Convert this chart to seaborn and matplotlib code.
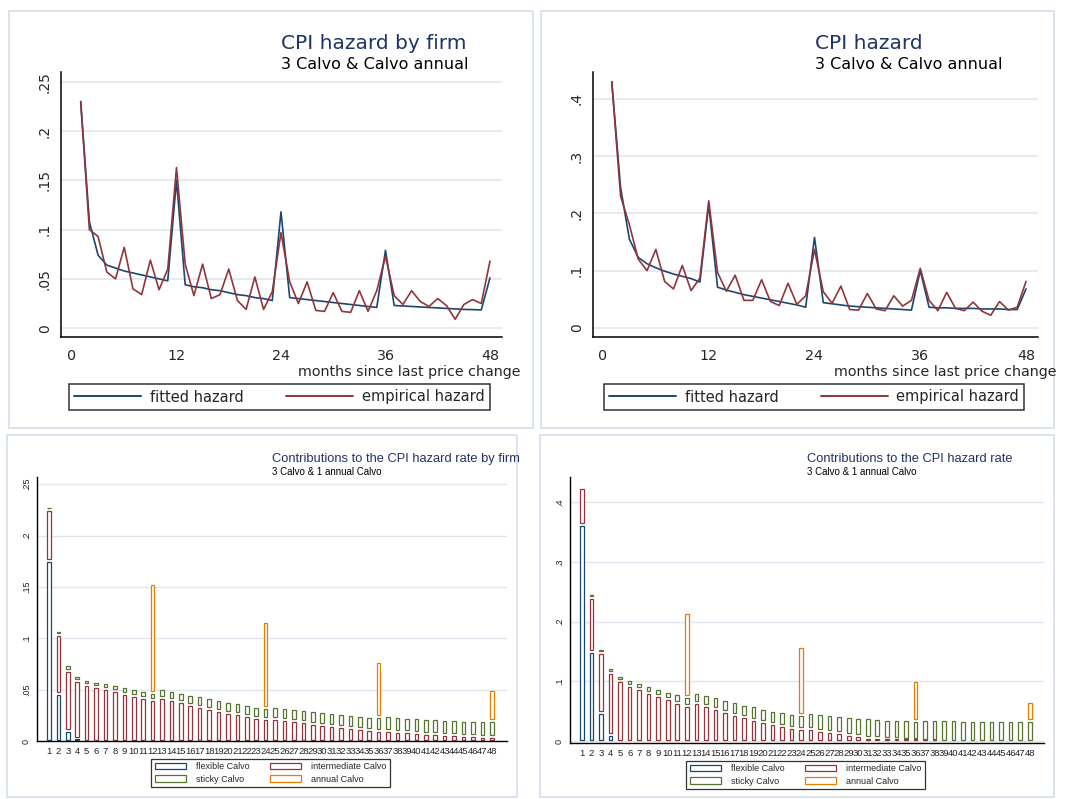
import matplotlib
matplotlib.use("Agg")
import matplotlib.pyplot as plt
from matplotlib.patches import Rectangle, Patch
from matplotlib.lines import Line2D
import numpy as np
import pandas as pd
import seaborn as sns

sns.set_style("white")
plt.rcParams['font.family'] = ['DejaVu Sans']

W, H = 1069, 799

# months since last price change
months = list(range(1, 49))

# top-left: CPI hazard by firm
fit_firm = [0.230, 0.108, 0.074, 0.064, 0.061, 0.058, 0.056, 0.054, 0.052, 0.050, 0.048, 0.150,
            0.044, 0.042, 0.041, 0.039, 0.038, 0.036, 0.034, 0.033, 0.031, 0.030, 0.028, 0.118,
            0.031, 0.030, 0.029, 0.028, 0.027, 0.026, 0.025, 0.024, 0.023, 0.022, 0.021, 0.079,
            0.023, 0.0225, 0.022, 0.0215, 0.021, 0.0205, 0.020, 0.0195, 0.019, 0.0188, 0.0185, 0.051]
emp_firm = [0.230, 0.100, 0.093, 0.057, 0.050, 0.082, 0.040, 0.034, 0.069, 0.039, 0.060, 0.163,
            0.065, 0.033, 0.065, 0.030, 0.034, 0.060, 0.028, 0.019, 0.052, 0.019, 0.037, 0.097,
            0.047, 0.025, 0.047, 0.018, 0.017, 0.036, 0.017, 0.016, 0.038, 0.017, 0.038, 0.073,
            0.033, 0.024, 0.038, 0.027, 0.022, 0.030, 0.023, 0.009, 0.024, 0.029, 0.025, 0.068]

# top-right: CPI hazard
fit_cpi = [0.430, 0.245, 0.155, 0.123, 0.112, 0.105, 0.099, 0.094, 0.090, 0.086, 0.080, 0.215,
           0.071, 0.066, 0.062, 0.058, 0.055, 0.052, 0.049, 0.046, 0.043, 0.040, 0.036, 0.158,
           0.044, 0.042, 0.040, 0.038, 0.037, 0.036, 0.035, 0.034, 0.033, 0.032, 0.031, 0.100,
           0.036, 0.035, 0.035, 0.034, 0.034, 0.034, 0.033, 0.033, 0.033, 0.032, 0.032, 0.068]
emp_cpi = [0.430, 0.230, 0.180, 0.120, 0.100, 0.137, 0.081, 0.068, 0.109, 0.065, 0.087, 0.222,
           0.097, 0.064, 0.092, 0.048, 0.048, 0.084, 0.046, 0.039, 0.078, 0.041, 0.056, 0.137,
           0.063, 0.043, 0.073, 0.032, 0.031, 0.060, 0.033, 0.030, 0.056, 0.038, 0.048, 0.104,
           0.048, 0.030, 0.062, 0.034, 0.030, 0.045, 0.029, 0.022, 0.046, 0.031, 0.036, 0.081]

# bottom-left: contributions by firm (segment heights)
flex_firm = [0.176, 0.046, 0.010, 0.002, 0, 0, 0, 0, 0, 0, 0, 0,
             0, 0, 0, 0, 0, 0, 0, 0, 0, 0, 0, 0,
             0, 0, 0, 0, 0, 0, 0, 0, 0, 0, 0, 0,
             0, 0, 0, 0, 0, 0, 0, 0, 0, 0, 0, 0]
inter_firm = [0.049, 0.058, 0.059, 0.057, 0.055, 0.053, 0.051, 0.049, 0.046, 0.044, 0.042, 0.040,
              0.042, 0.040, 0.038, 0.036, 0.034, 0.032, 0.030, 0.028, 0.027, 0.025, 0.023, 0.022,
              0.022, 0.021, 0.020, 0.019, 0.017, 0.016, 0.015, 0.014, 0.013, 0.012, 0.011, 0.010,
              0.010, 0.009, 0.009, 0.008, 0.007, 0.007, 0.006, 0.006, 0.005, 0.005, 0.004, 0.004]
sticky_firm = [0.002, 0.003, 0.005, 0.005, 0.005, 0.005, 0.006, 0.006, 0.007, 0.007, 0.007, 0.007,
               0.009, 0.009, 0.009, 0.009, 0.010, 0.010, 0.010, 0.010, 0.010, 0.011, 0.011, 0.011,
               0.012, 0.012, 0.012, 0.012, 0.013, 0.013, 0.013, 0.013, 0.013, 0.013, 0.013, 0.014,
               0.015, 0.015, 0.014, 0.015, 0.015, 0.015, 0.015, 0.015, 0.015, 0.015, 0.016, 0.016]
annual_firm = [0, 0, 0, 0, 0, 0, 0, 0, 0, 0, 0, 0.106,
               0, 0, 0, 0, 0, 0, 0, 0, 0, 0, 0, 0.083,
               0, 0, 0, 0, 0, 0, 0, 0, 0, 0, 0, 0.053,
               0, 0, 0, 0, 0, 0, 0, 0, 0, 0, 0, 0.030]

# bottom-right: contributions to CPI hazard
flex_cpi = [0.362, 0.150, 0.048, 0.012, 0, 0, 0, 0, 0, 0, 0, 0,
            0, 0, 0, 0, 0, 0, 0, 0, 0, 0, 0, 0,
            0, 0, 0, 0, 0, 0, 0, 0, 0, 0, 0, 0,
            0, 0, 0, 0, 0, 0, 0, 0, 0, 0, 0, 0]
inter_cpi = [0.062, 0.091, 0.100, 0.103, 0.102, 0.094, 0.088, 0.082, 0.076, 0.071, 0.065, 0.060,
             0.065, 0.060, 0.055, 0.050, 0.045, 0.041, 0.037, 0.033, 0.030, 0.026, 0.023, 0.021,
             0.021, 0.018, 0.016, 0.014, 0.011, 0.009, 0.007, 0.006, 0.005, 0.004, 0.003, 0.003,
             0.002, 0.001, 0, 0, 0, 0, 0, 0, 0, 0, 0, 0]
sticky_cpi = [0, 0.004, 0.007, 0.008, 0.008, 0.010, 0.011, 0.012, 0.012, 0.012, 0.014, 0.015,
              0.017, 0.018, 0.019, 0.020, 0.021, 0.021, 0.022, 0.022, 0.022, 0.023, 0.023, 0.024,
              0.027, 0.028, 0.029, 0.029, 0.030, 0.031, 0.032, 0.032, 0.032, 0.033, 0.033, 0.032,
              0.035, 0.035, 0.036, 0.036, 0.035, 0.035, 0.035, 0.035, 0.035, 0.034, 0.034, 0.034]
annual_cpi = [0, 0, 0, 0, 0, 0, 0, 0, 0, 0, 0, 0.140,
              0, 0, 0, 0, 0, 0, 0, 0, 0, 0, 0, 0.113,
              0, 0, 0, 0, 0, 0, 0, 0, 0, 0, 0, 0.066,
              0, 0, 0, 0, 0, 0, 0, 0, 0, 0, 0, 0.032]

part_names = ["flexible Calvo", "intermediate Calvo", "sticky Calvo", "annual Calvo"]

NAVY, MAROON, GREEN, ORANGE = '#1a476f', '#90353b', '#55752f', '#e37e00'
TITLE_C = '#1f3366'
GRID_C = '#dfe6ef'
BORDER_C = '#d8e1ec'

fig = plt.figure(figsize=(W / 100, H / 100), dpi=100)


def box(l, t, r, b):
    return [l / W, 1 - b / H, (r - l) / W, (b - t) / H]


def stata_num(v):
    s = '%g' % round(v, 6)
    return s[1:] if s.startswith('0.') else s


# light panel frames (Stata graph regions)
for l, t, r, b in [(9, 11, 533, 428), (541, 11, 1054, 428), (7, 435, 517, 797), (540, 435, 1054, 797)]:
    fig.add_artist(Rectangle((l / W, 1 - b / H), (r - l) / W, (b - t) / H, transform=fig.transFigure,
                             fill=False, edgecolor=BORDER_C, lw=1.3))


def hazard_panel(rect, fitted, empirical, yticks, ylim, xlim, title, tx, xlab_right, leg):
    ax = fig.add_axes(box(*rect))
    df = pd.DataFrame({'month': months * 2,
                       'hazard': fitted + empirical,
                       'series': ['fitted hazard'] * 48 + ['empirical hazard'] * 48})
    sns.lineplot(data=df, x='month', y='hazard', hue='series',
                 palette={'fitted hazard': NAVY, 'empirical hazard': MAROON},
                 lw=1.2, errorbar=None, legend=False, ax=ax)
    ax.set_xlim(xlim)
    ax.set_ylim(ylim)
    ax.set_xticks([0, 12, 24, 36, 48], ['0', '12', '24', '36', '48'], fontsize=10.3)
    ax.set_yticks(yticks, [stata_num(v) for v in yticks], rotation=90, va='center', fontsize=10)
    ax.tick_params(axis='x', length=6, width=1, pad=3, color='black')
    ax.tick_params(axis='y', length=5, width=1, pad=1.5, color='black')
    ax.set_xlabel('')
    ax.set_ylabel('')
    ax.grid(axis='y', color=GRID_C, lw=1.1)
    ax.set_axisbelow(True)
    sns.despine(ax=ax)
    for sp in ['left', 'bottom']:
        ax.spines[sp].set_color('black')
        ax.spines[sp].set_linewidth(1.1)
    fig.text(tx / W, 1 - 49 / H, title, color=TITLE_C, fontsize=14.5, va='baseline')
    fig.text(tx / W, 1 - 69 / H, "3 Calvo & Calvo annual", color='black', fontsize=11.5, va='baseline')
    fig.text(xlab_right / W, 1 - 376 / H, "months since last price change", fontsize=10.3,
             ha='right', va='baseline')
    handles = [Line2D([], [], color=NAVY, lw=1.4), Line2D([], [], color=MAROON, lw=1.4)]
    lg = fig.legend(handles, ['fitted hazard', 'empirical hazard'], loc='center',
                    bbox_to_anchor=(leg[0] / W, 1 - leg[1] / H), ncol=2, fontsize=10.5,
                    handlelength=4.6, handletextpad=0.6, columnspacing=2.9, borderpad=0.35,
                    frameon=True, fancybox=False)
    lg.get_frame().set_edgecolor('black')
    lg.get_frame().set_linewidth(1.1)
    return ax


hazard_panel((61, 72, 502, 337), fit_firm, emp_firm, [0, 0.05, 0.1, 0.15, 0.2, 0.25],
             (-0.009, 0.26), (-1.26, 49.38), "CPI hazard by firm", 281, 520, (279.5, 397))
hazard_panel((593, 72, 1038, 337), fit_cpi, emp_cpi, [0, 0.1, 0.2, 0.3, 0.4],
             (-0.016, 0.447), (-1.13, 49.36), "CPI hazard", 815, 1056, (814, 397))

BFONT = 'Liberation Sans'


def contrib_panel(rect, parts, yticks, ylim, xlim, title, tx, leg):
    ax = fig.add_axes(box(*rect))
    colors = [NAVY, MAROON, GREEN, ORANGE]
    ax_h = rect[3] - rect[1]
    g = 1.5 * (ylim[1] - ylim[0]) / ax_h
    x = np.array(months)
    bottom = np.zeros(len(months))
    for vals, col in zip(parts, colors):
        v = np.array(vals, dtype=float)
        m = v > 0
        lo = bottom + g
        hgt = np.maximum(v - 2 * g, g * 0.2)
        ax.bar(x[m], hgt[m], bottom=lo[m], width=0.38, facecolor='white', edgecolor=col, lw=0.9)
        bottom = bottom + v
    ax.set_xlim(xlim)
    ax.set_ylim(ylim)
    ax.set_xticks(months, [str(mm) for mm in months], fontsize=6.8, family=BFONT, color='#222222')
    ax.set_yticks(yticks, [stata_num(v) for v in yticks], rotation=90, va='center',
                  fontsize=6.5, family=BFONT, color='#222222')
    ax.tick_params(axis='x', length=0, pad=4)
    ax.tick_params(axis='y', length=3, width=0.8, pad=1.5, color='black')
    ax.grid(axis='y', color=GRID_C, lw=1.0)
    ax.set_axisbelow(True)
    sns.despine(ax=ax)
    for sp in ['left', 'bottom']:
        ax.spines[sp].set_color('black')
        ax.spines[sp].set_linewidth(1.0)
    fig.text(tx / W, 1 - 462 / H, title, color=TITLE_C, fontsize=9.3, family=BFONT, va='baseline')
    fig.text(tx / W, 1 - 475 / H, "3 Calvo & 1 annual Calvo", color='black', fontsize=7,
             family=BFONT, va='baseline')
    handles = [Patch(facecolor='white', edgecolor=c, lw=0.9) for c in colors]
    # Stata fills legend row by row: flexible, intermediate / sticky, annual
    order = [0, 2, 1, 3]
    lg = fig.legend([handles[i] for i in order], [part_names[i] for i in order], loc='center',
                    bbox_to_anchor=(leg[0] / W, 1 - leg[1] / H), ncol=2,
                    prop={'family': BFONT, 'size': 6.5},
                    handlelength=3.5, handleheight=0.7, handletextpad=1.1, columnspacing=2.2,
                    labelspacing=0.4, borderpad=0.35, frameon=True, fancybox=False)
    lg.get_frame().set_edgecolor('black')
    lg.get_frame().set_linewidth(0.9)
    return ax


contrib_panel((37, 477, 507, 741), [flex_firm, inter_firm, sticky_firm, annual_firm],
              [0, 0.05, 0.1, 0.15, 0.2, 0.25], (0, 0.257), (-0.27, 49.62),
              "Contributions to the CPI hazard rate by firm", 272, (270.5, 773))
contrib_panel((570, 477, 1044, 743), [flex_cpi, inter_cpi, sticky_cpi, annual_cpi],
              [0, 0.1, 0.2, 0.3, 0.4], (-0.003, 0.442), (-0.26, 49.5),
              "Contributions to the CPI hazard rate", 807, (805.5, 775))

fig.savefig('out.png', dpi=100, facecolor='white')
